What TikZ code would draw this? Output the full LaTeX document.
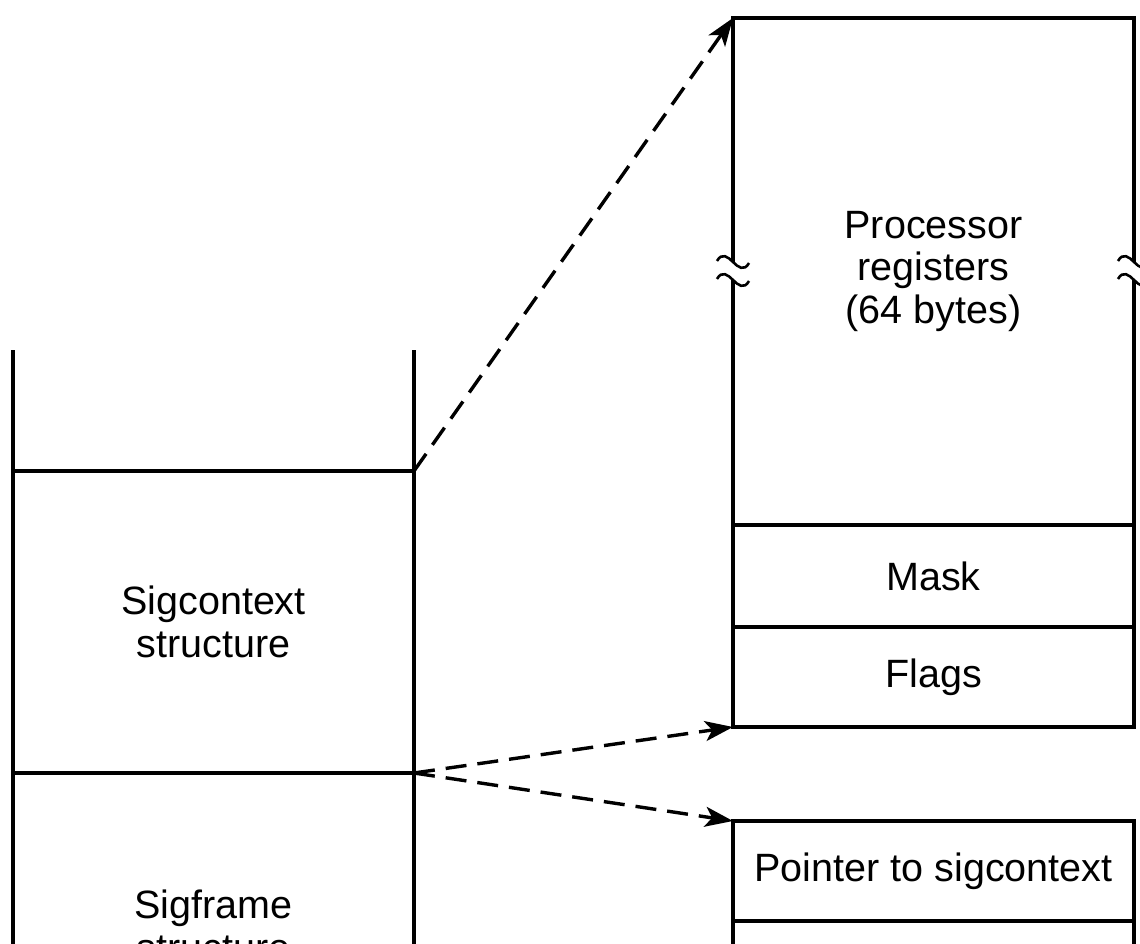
\documentclass[tikz,border=0pt]{standalone}
\usepackage{fontspec}
\setmainfont{Liberation Sans}
\usetikzlibrary{arrows.meta}
\begin{document}
\begin{tikzpicture}[x=1pt,y=-1pt,
  cell/.style={rectangle, draw=black, line width=3.4pt, minimum width=401pt, inner sep=0pt,
    outer sep=0pt, align=center, font=\fontsize{39.5}{42.5}\selectfont},
  bare/.style={cell, draw=none},
  ptr/.style={line width=3.4pt, dash pattern=on 21pt off 11pt,
    -{Stealth[length=28pt,width=20pt,inset=7pt]}},
  edge/.style={line width=3.4pt}]
\useasboundingbox (0,0) rectangle (1140,944);
\clip (0,0) rectangle (1140,944);
% left stack
\node[cell, minimum height=302pt] (sigctx) at (213.5,622) {Sigcontext\\structure};
\node[cell, minimum height=306pt] (sigframe) at (213.5,926) {Sigframe\\structure};
\coordinate (stl) at (13,350);
\coordinate (str) at (414,350);
\draw[edge] (stl) -- (sigctx.north west);
\draw[edge] (str) -- (sigctx.north east);
% right boxes
\node[bare, minimum height=507pt] (regs) at (933.5,271.5) {Processor\\registers\\(64 bytes)};
\node[cell, minimum height=102pt] (mask) at (933.5,576) {Mask};
\node[cell, minimum height=100pt] (flags) at (933.5,677) {Flags};
\node[cell, minimum height=100pt] (pointer) at (933.5,871) {Pointer to sigcontext};
\node[cell, minimum height=100pt] (next) at (933.5,971) {};
% registers outline with break marks
\coordinate (lb1) at (733,262);
\coordinate (lb2) at (733,280);
\coordinate (rb1) at (1134,262);
\coordinate (rb2) at (1134,280);
\draw[edge, line cap=rect] (regs.north west) -- (regs.north east);
\draw[edge] (regs.north west) -- (lb1);
\draw[edge] (lb2) -- (regs.south west);
\draw[edge] (regs.north east) -- (rb1);
\draw[edge] (rb2) -- (regs.south east);
\foreach \c in {lb1,lb2,rb1,rb2}{
  \draw[line width=2.6pt] ([xshift=-16pt,yshift=1pt]\c) .. controls +(5,-9) and +(-5,-5) .. (\c)
     .. controls +(5,5) and +(-5,9) .. ([xshift=16pt,yshift=-1pt]\c);
}
% connectors
\draw[ptr] (sigctx.north east) -- (regs.north west);
\draw[ptr] (sigctx.south east) -- (flags.south west);
\draw[ptr] (sigctx.south east) -- (pointer.north west);
\end{tikzpicture}
\end{document}
